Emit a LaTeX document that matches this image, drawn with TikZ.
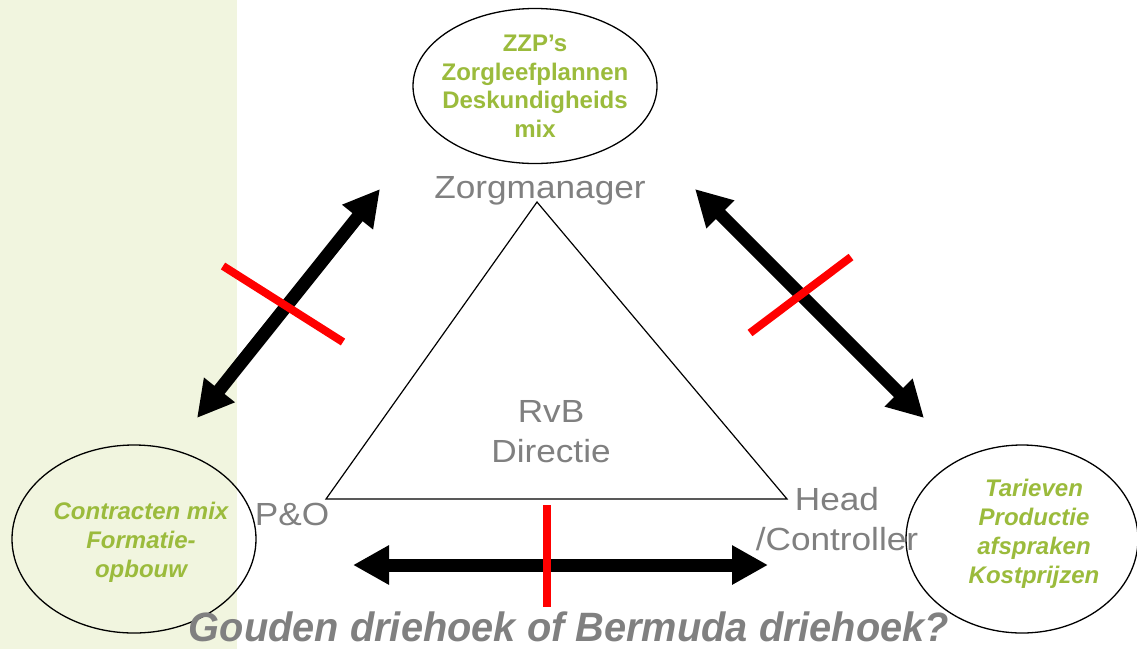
\documentclass[tikz,border=0pt]{standalone}
\usepackage{fontspec}
\setmainfont{Liberation Sans}
\newfontfamily\grayfont[FakeStretch=1.1]{Liberation Sans}
\newfontfamily\titlefont[FakeStretch=0.97]{Liberation Sans}
\usetikzlibrary{shapes.geometric,arrows.meta}
\definecolor{band}{RGB}{241,245,223}
\definecolor{txtgray}{RGB}{128,128,128}
\definecolor{lgreen}{RGB}{155,187,60}
\definecolor{xred}{RGB}{255,0,0}
\tikzset{
  bubble/.style={ellipse, draw=black, line width=1.3pt, inner sep=0pt},
  greentext/.style={text=lgreen, align=center, inner sep=0pt,
    font=\fontsize{24}{28.5}\selectfont\bfseries},
  greenit/.style={greentext, font=\fontsize{24}{29}\selectfont\bfseries\itshape},
  graytext/.style={text=txtgray, inner sep=0pt, align=center,
    font=\grayfont\fontsize{32}{40}\selectfont},
  bigarrow/.style={line width=13pt, {Triangle[length=36pt,width=37pt]}-{Triangle[length=36pt,width=37pt]}},
  cross/.style={draw=xred, line width=8pt},
  tri/.style={draw=black, line width=1.2pt, line join=miter}
}
\begin{document}
\begin{tikzpicture}[x=1pt,y=-1pt]
\useasboundingbox (0,0) rectangle (1137,649);
\fill[white] (0,0) rectangle (1137,649);
\fill[band] (0,0) rectangle (237,649);

% triangle
\coordinate (apex) at (537,202);
\coordinate (lc) at (326,499);
\coordinate (rc) at (787,499);
\draw[tri] (apex) -- (lc) -- (rc) -- cycle;

% ellipses
\node[bubble, minimum width=244pt, minimum height=155pt] (top) at (535,86) {};
\node[greentext] (toptext) at (535,86) {ZZP’s\\Zorgleefplannen\\Deskundigheids\\mix};

\node[bubble, minimum width=244pt, minimum height=188pt] (left) at (134,539) {};
\node[greenit] (lefttext) at (141,542) {Contracten mix\\Formatie-\\opbouw};

\node[bubble, minimum width=232pt, minimum height=188pt] (right) at (1022,539) {};
\node[greenit] (righttext) at (1034,534) {Tarieven\\Productie\\afspraken\\Kostprijzen};

% gray labels
\node[graytext, anchor=base] (zm) at (540,198) {Zorgmanager};
\node[graytext] (rvb) at (551,432) {RvB\\Directie};
\node[graytext, anchor=base] (po) at (292,525) {P\&O};
\node[graytext] (head) at (837,519) {Head\\/Controller};

% arrows
\coordinate (a1s) at (380,189);
\coordinate (a1e) at (197,418);
\coordinate (a2s) at (695,189);
\coordinate (a2e) at (924,418);
\coordinate (a3s) at (353,565);
\coordinate (a3e) at (768,565);
\draw[bigarrow] (a1e) -- (a1s);
\draw[bigarrow] (a2s) -- (a2e);
\draw[bigarrow] (a3s) -- (a3e);

% red crossings
\coordinate (r1a) at (223,266);
\coordinate (r1b) at (343,342);
\coordinate (r2a) at (851,257);
\coordinate (r2b) at (750,333);
\coordinate (r3a) at (547,505);
\coordinate (r3b) at (547,607);
\draw[cross] (r1a) -- (r1b);
\draw[cross] (r2a) -- (r2b);
\draw[cross] (r3a) -- (r3b);

% title
\node[text=txtgray, inner sep=0pt, anchor=base,
  font=\titlefont\fontsize{41}{48}\selectfont\bfseries\itshape] (title) at (569,641)
  {Gouden driehoek of Bermuda driehoek?};
\end{tikzpicture}
\end{document}
